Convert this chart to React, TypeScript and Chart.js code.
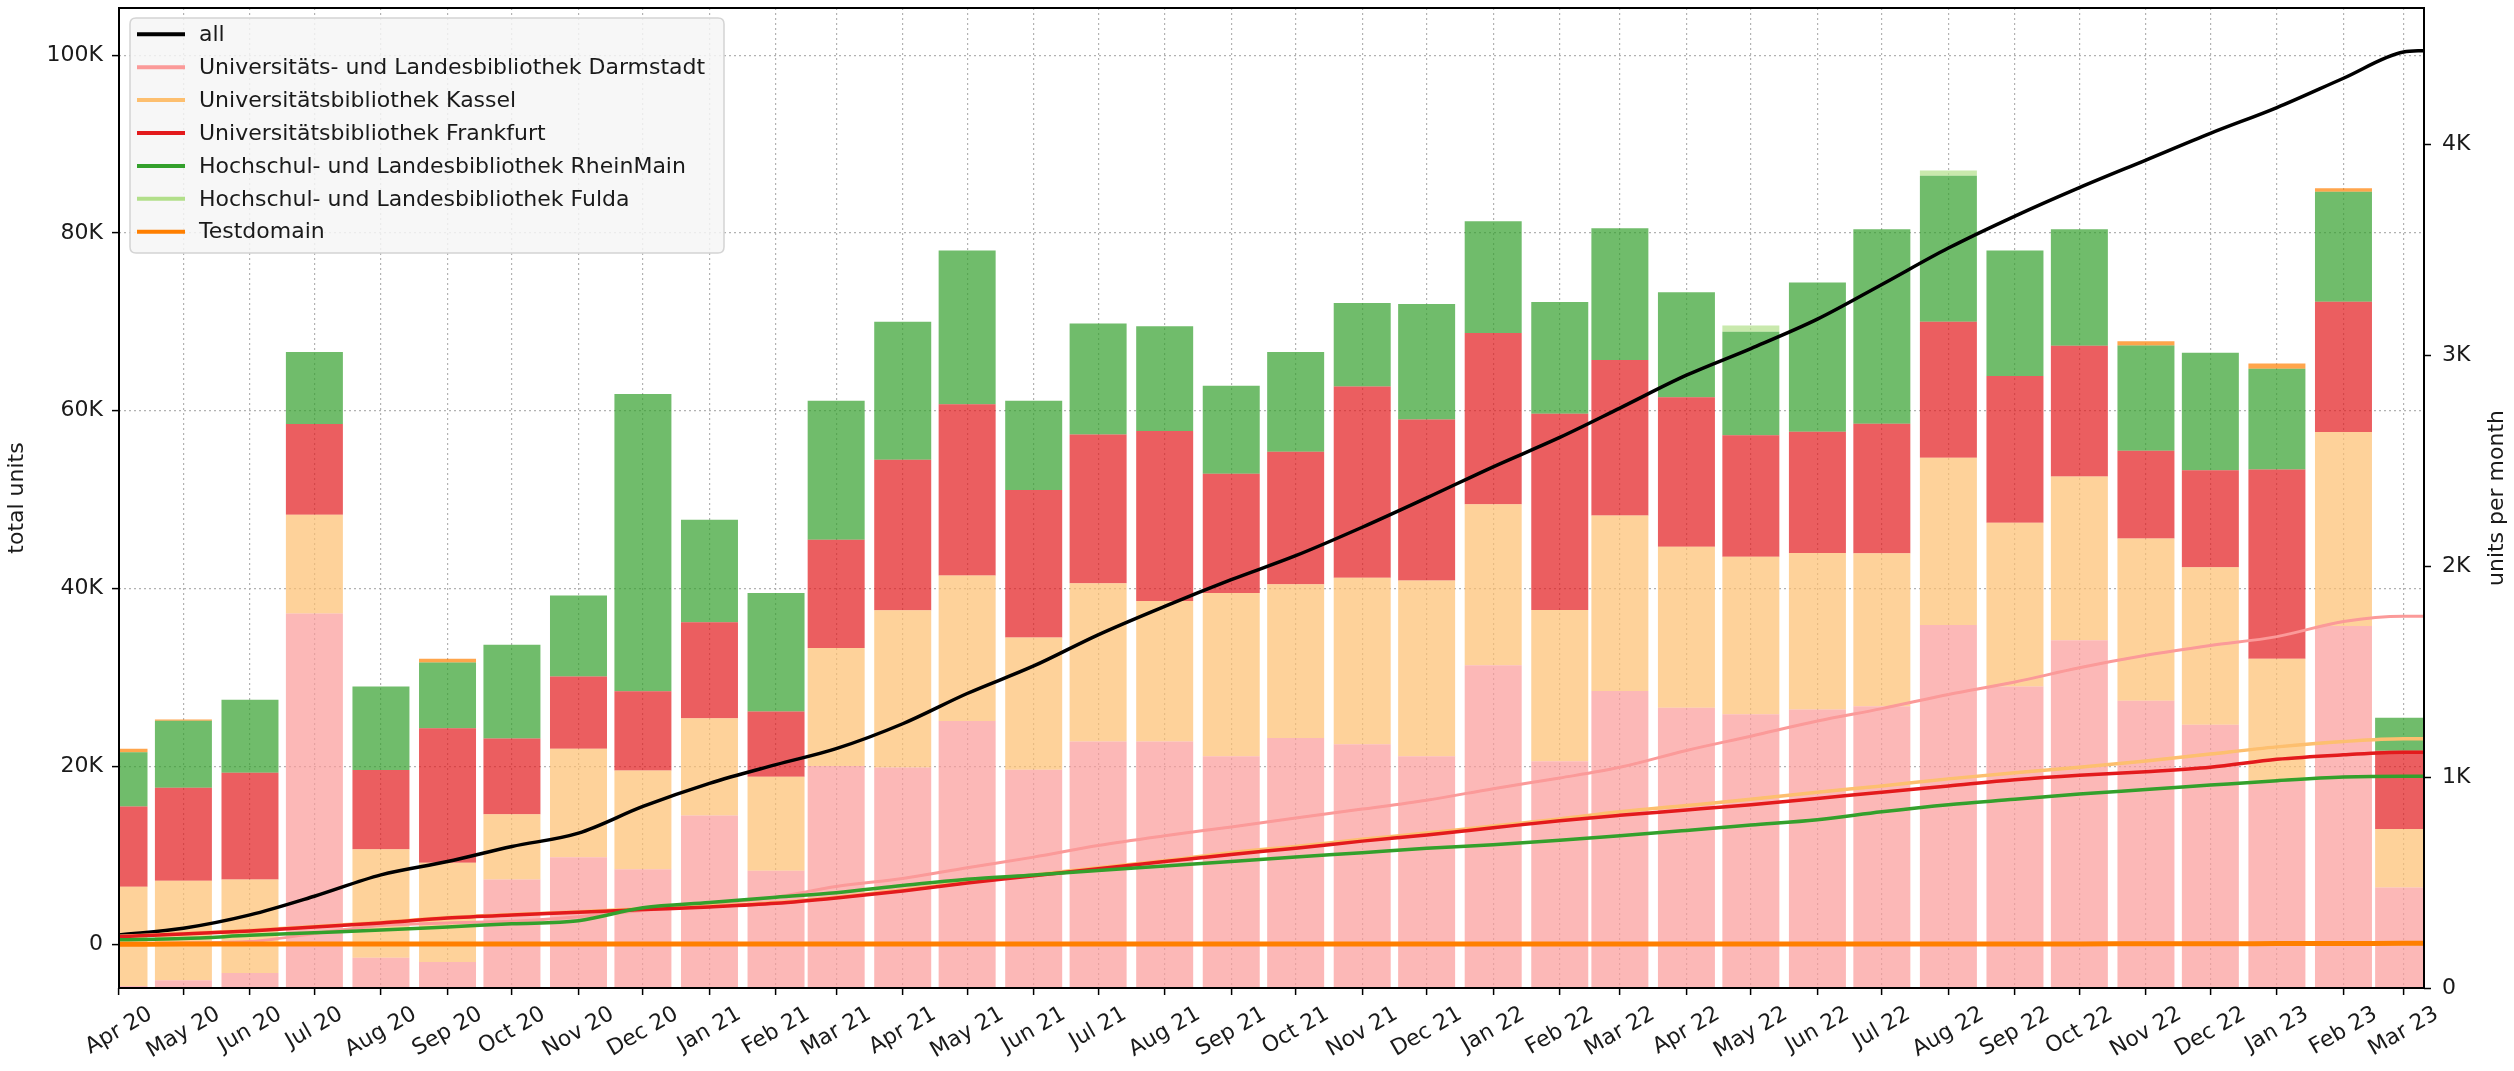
import React, { useEffect, useRef } from "react";
import { Chart, registerables } from "chart.js";

Chart.register(...registerables);

const FONT = "'DejaVu Sans', sans-serif";
const FS = 22;

// ---------- data ----------
const monthLabels = [
  "Apr 20", "May 20", "Jun 20", "Jul 20", "Aug 20", "Sep 20", "Oct 20", "Nov 20", "Dec 20",
  "Jan 21", "Feb 21", "Mar 21", "Apr 21", "May 21", "Jun 21", "Jul 21", "Aug 21", "Sep 21",
  "Oct 21", "Nov 21", "Dec 21", "Jan 22", "Feb 22", "Mar 22", "Apr 22", "May 22", "Jun 22",
  "Jul 22", "Aug 22", "Sep 22", "Oct 22", "Nov 22", "Dec 22", "Jan 23", "Feb 23", "Mar 23",
];

const leftTicks = [0, 20000, 40000, 60000, 80000, 100000];
const rightTicks = [0, 1000, 2000, 3000, 4000];

// units per month (bars, right axis)
const darmstadtMonthly = [10, 37, 71, 1775, 143, 123, 514, 620, 563, 818, 556, 1052, 1045, 1265, 1035, 1168, 1168, 1098, 1185, 1155, 1098, 1530, 1075, 1408, 1328, 1298, 1320, 1336, 1720, 1429, 1648, 1362, 1248, 982, 1716, 476];
const kasselMonthly = [470, 471, 443, 468, 515, 471, 310, 514, 468, 460, 445, 559, 746, 690, 626, 751, 666, 774, 729, 789, 833, 763, 717, 831, 763, 746, 742, 725, 793, 776, 776, 768, 746, 578, 919, 278];
const frankfurtMonthly = [380, 441, 506, 430, 375, 637, 358, 342, 375, 455, 310, 514, 713, 812, 700, 704, 806, 565, 628, 907, 763, 812, 930, 738, 709, 576, 574, 614, 645, 696, 620, 417, 460, 898, 618, 371];
const rheinmainMonthly = [257, 318, 346, 342, 396, 312, 445, 384, 1410, 487, 561, 658, 654, 729, 422, 527, 497, 418, 472, 396, 548, 529, 529, 624, 498, 491, 708, 921, 692, 595, 552, 498, 557, 477, 521, 156];
const fuldaMonthly = [0, 0, 0, 0, 0, 0, 0, 0, 0, 0, 0, 0, 0, 0, 0, 0, 0, 0, 0, 0, 0, 0, 0, 0, 0, 29, 0, 0, 25, 0, 0, 0, 0, 0, 0, 0];
const testMonthly = [17, 6, 0, 0, 0, 17, 0, 0, 0, 0, 0, 0, 0, 0, 0, 0, 0, 0, 0, 0, 0, 0, 0, 0, 0, 0, 0, 0, 0, 0, 0, 21, 0, 25, 17, 0];

// total units (lines, left axis) at each month start + the right edge
const allTotal = [1050, 1800, 3300, 5400, 7800, 9300, 11000, 12500, 15500, 18100, 20200, 22000, 24800, 28200, 31300, 34800, 38000, 41000, 43700, 46900, 50200, 53700, 57000, 60300, 64000, 67000, 70300, 74200, 78300, 81900, 85100, 88200, 91200, 94100, 97400, 100350, 100500];
const darmstadtTotal = [50, 150, 300, 1200, 2100, 2400, 2600, 3100, 3800, 4500, 5300, 6500, 7400, 8600, 9800, 11100, 12200, 13200, 14200, 15200, 16200, 17500, 18700, 19900, 21800, 23400, 25100, 26500, 28100, 29500, 31100, 32500, 33600, 34600, 36300, 36900, 36900];
const kasselTotal = [900, 1200, 1550, 2000, 2450, 3000, 3350, 3650, 4000, 4300, 4700, 5300, 6100, 7000, 7800, 8600, 9400, 10300, 11000, 11800, 12500, 13300, 14100, 14900, 15600, 16300, 17100, 17800, 18600, 19300, 19900, 20600, 21400, 22200, 22800, 23100, 23100];
const frankfurtTotal = [850, 1150, 1500, 1950, 2400, 2950, 3300, 3600, 3900, 4200, 4600, 5200, 6000, 6900, 7700, 8500, 9300, 10100, 10800, 11600, 12300, 13100, 13900, 14500, 15100, 15700, 16400, 17100, 17800, 18500, 19000, 19400, 19900, 20800, 21300, 21600, 21600];
const rheinmainTotal = [500, 650, 1000, 1300, 1600, 1950, 2300, 2650, 4100, 4700, 5300, 5800, 6600, 7300, 7800, 8300, 8800, 9300, 9800, 10300, 10800, 11200, 11700, 12200, 12800, 13400, 14000, 14900, 15700, 16300, 16900, 17400, 17900, 18400, 18800, 18900, 18900];
const fuldaTotal = [0, 0, 0, 0, 0, 0, 0, 0, 0, 0, 0, 0, 0, 0, 0, 0, 0, 0, 0, 0, 0, 0, 0, 0, 0, 10, 30, 30, 40, 55, 55, 55, 55, 55, 55, 55, 55];
const testTotal = [0, 15, 20, 25, 25, 30, 40, 40, 40, 40, 40, 40, 40, 40, 40, 40, 40, 40, 40, 40, 40, 40, 40, 40, 40, 40, 40, 40, 40, 40, 40, 50, 60, 75, 90, 100, 100];

const seriesNames = [
  "all",
  "Universitäts- und Landesbibliothek Darmstadt",
  "Universitätsbibliothek Kassel",
  "Universitätsbibliothek Frankfurt",
  "Hochschul- und Landesbibliothek RheinMain",
  "Hochschul- und Landesbibliothek Fulda",
  "Testdomain",
];
const lineColors = ["#000000", "#fb9a99", "#fdbf6f", "#e31a1c", "#33a02c", "#b2df8a", "#ff7f00"];
const barColors = [
  "rgba(251,154,153,0.7)",
  "rgba(253,191,111,0.7)",
  "rgba(227,26,28,0.7)",
  "rgba(51,160,44,0.7)",
  "rgba(178,223,138,0.7)",
  "rgba(255,127,0,0.7)",
];

// ---------- x positions (days since 1 Apr 2020) ----------
const MONTH_INDEX: Record<string, number> = {
  Jan: 0, Feb: 1, Mar: 2, Apr: 3, May: 4, Jun: 5, Jul: 6, Aug: 7, Sep: 8, Oct: 9, Nov: 10, Dec: 11,
};
const ORIGIN = Date.UTC(2020, 3, 1);
const dayOf = (label: string) => {
  const [m, y] = label.split(" ");
  return (Date.UTC(2000 + Number(y), MONTH_INDEX[m], 1) - ORIGIN) / 86400000;
};
const monthDays = monthLabels.map(dayOf);
const AXIS_END_DAY = 1073.5;
const lineDays = [...monthDays, AXIS_END_DAY];

const LEFT_MIN = -4920;
const LEFT_MAX = 105300;
const RIGHT_MAX = 4645;

const GRID = "rgba(170,170,170,0.9)";
const fmtK = (v: number) => (v === 0 ? "0" : `${Math.round(v / 1000)}K`);

const decorPlugin = {
  id: "decor",
  afterDatasetsDraw(chart: any) {
    const { ctx, chartArea: a } = chart;
    ctx.save();
    // legend
    const lx = 130, ly = 18, lw = 594, lh = 235, r = 6;
    ctx.beginPath();
    ctx.moveTo(lx + r, ly);
    ctx.lineTo(lx + lw - r, ly);
    ctx.quadraticCurveTo(lx + lw, ly, lx + lw, ly + r);
    ctx.lineTo(lx + lw, ly + lh - r);
    ctx.quadraticCurveTo(lx + lw, ly + lh, lx + lw - r, ly + lh);
    ctx.lineTo(lx + r, ly + lh);
    ctx.quadraticCurveTo(lx, ly + lh, lx, ly + lh - r);
    ctx.lineTo(lx, ly + r);
    ctx.quadraticCurveTo(lx, ly, lx + r, ly);
    ctx.closePath();
    ctx.fillStyle = "rgba(246,246,246,0.85)";
    ctx.fill();
    ctx.strokeStyle = "#d4d4d4";
    ctx.lineWidth = 1.5;
    ctx.stroke();
    ctx.font = `${FS}px ${FONT}`;
    ctx.textAlign = "left";
    ctx.textBaseline = "middle";
    seriesNames.forEach((name, i) => {
      const y = 34.3 + i * 32.9;
      ctx.strokeStyle = lineColors[i];
      ctx.lineWidth = 4;
      ctx.beginPath();
      ctx.moveTo(137, y);
      ctx.lineTo(185, y);
      ctx.stroke();
      ctx.fillStyle = "#1a1a1a";
      ctx.fillText(name, 199, y + 1);
    });
    // frame
    ctx.strokeStyle = "#000";
    ctx.lineWidth = 2;
    ctx.strokeRect(a.left, a.top, a.right - a.left, a.bottom - a.top);
    ctx.restore();
  },
  afterDraw(chart: any) {
    const { ctx, chartArea: a, scales } = chart;
    const xs = scales.x;
    ctx.save();
    ctx.font = `${FS}px ${FONT}`;
    ctx.fillStyle = "#1a1a1a";
    const ang = Math.PI / 6;
    monthDays.forEach((d, i) => {
      const x = xs.getPixelForValue(d);
      const label = monthLabels[i];
      const w = ctx.measureText(label).width;
      const h = FS;
      const bh = w * Math.sin(ang) + h * Math.cos(ang);
      const cy = a.bottom + 15 + bh / 2;
      ctx.save();
      ctx.translate(x, cy);
      ctx.rotate(-ang);
      ctx.textAlign = "center";
      ctx.textBaseline = "middle";
      ctx.fillText(label, 0, 0);
      ctx.restore();
    });
    // right axis title
    ctx.save();
    ctx.translate(2497, (a.top + a.bottom) / 2);
    ctx.rotate(-Math.PI / 2);
    ctx.textAlign = "center";
    ctx.textBaseline = "middle";
    ctx.fillText("units per month", 0, 0);
    ctx.restore();
    ctx.restore();
  },
};

export default function App() {
  const canvasRef = useRef<HTMLCanvasElement | null>(null);

  useEffect(() => {
    const canvas = canvasRef.current;
    if (!canvas) return;

    const barSeries = [darmstadtMonthly, kasselMonthly, frankfurtMonthly, rheinmainMonthly, fuldaMonthly, testMonthly];
    const lineSeries = [allTotal, darmstadtTotal, kasselTotal, frankfurtTotal, rheinmainTotal, fuldaTotal, testTotal];
    const lineWidths = [3.5, 3, 3.5, 3.5, 3.5, 3, 5];

    const barDatasets = barSeries.map((arr, i) => ({
      type: "bar" as const,
      label: seriesNames[i + 1] + " (monthly)",
      data: arr.map((v, k) => ({ x: monthDays[k], y: v })),
      backgroundColor: barColors[i],
      borderWidth: 0,
      yAxisID: "y1",
      xAxisID: "x",
      stack: "bars",
      order: 10,
      clip: 0,
      categoryPercentage: 0.948,
      barPercentage: 1,
    }));

    const lineDatasets = lineSeries.map((arr, i) => ({
      type: "line" as const,
      label: seriesNames[i],
      data: arr.map((v, k) => ({ x: lineDays[k], y: v })),
      borderColor: lineColors[i],
      backgroundColor: lineColors[i],
      borderWidth: lineWidths[i],
      pointRadius: 0,
      fill: false,
      cubicInterpolationMode: "monotone" as const,
      yAxisID: "y",
      xAxisID: "x",
      order: 6 - i,
      borderCapStyle: "butt" as const,
    }));

    const tickFont = { family: FONT, size: FS };

    const chart = new Chart(canvas, {
      type: "bar",
      data: { datasets: [...barDatasets, ...lineDatasets] as any },
      plugins: [decorPlugin],
      options: {
        responsive: false,
        devicePixelRatio: 1,
        animation: false,
        events: [],
        layout: { padding: { top: 8, left: 0, right: 0, bottom: 0 } },
        plugins: { legend: { display: false }, tooltip: { enabled: false }, title: { display: false } },
        scales: {
          x: {
            type: "linear",
            min: 0,
            max: AXIS_END_DAY,
            offset: false,
            stacked: true,
            afterBuildTicks: (s: any) => {
              s.ticks = monthDays.map((v) => ({ value: v }));
            },
            ticks: { display: false, autoSkip: false },
            grid: {
              display: true,
              offset: false,
              color: GRID,
              lineWidth: 1.2,
              drawTicks: true,
              tickLength: 7,
              tickColor: "#000",
              tickWidth: 1.5,
              tickBorderDash: [],
            },
            border: { display: false, dash: [2, 3] },
            afterFit: (s: any) => {
              s.height = 83;
              s.paddingLeft = 0;
              s.paddingRight = 0;
            },
          },
          y: {
            type: "linear",
            position: "left",
            min: LEFT_MIN,
            max: LEFT_MAX,
            afterBuildTicks: (s: any) => {
              s.ticks = leftTicks.map((v) => ({ value: v }));
            },
            ticks: { font: tickFont, color: "#1a1a1a", padding: 9, callback: (v: any) => fmtK(Number(v)) },
            grid: {
              color: GRID,
              lineWidth: 1.2,
              drawTicks: true,
              tickLength: 7,
              tickColor: "#000",
              tickWidth: 1.5,
              tickBorderDash: [],
            },
            border: { display: false, dash: [2, 3] },
            title: { display: true, text: "total units", font: tickFont, color: "#1a1a1a", padding: { top: 4, bottom: 0 } },
            afterFit: (s: any) => {
              s.width = 119;
              s.paddingTop = 0;
              s.paddingBottom = 0;
            },
          },
          y1: {
            type: "linear",
            position: "right",
            min: 0,
            max: RIGHT_MAX,
            stacked: true,
            afterBuildTicks: (s: any) => {
              s.ticks = rightTicks.map((v) => ({ value: v }));
            },
            ticks: { font: tickFont, color: "#1a1a1a", padding: 11, callback: (v: any) => fmtK(Number(v)) },
            grid: {
              drawOnChartArea: false,
              drawTicks: true,
              tickLength: 7,
              tickColor: "#000",
              tickWidth: 1.5,
              tickBorderDash: [],
            },
            border: { display: false },
            afterFit: (s: any) => {
              s.width = 90;
              s.paddingTop = 0;
              s.paddingBottom = 0;
            },
          },
        },
      } as any,
    });

    return () => {
      chart.destroy();
    };
  }, []);

  return (
    <div style={{ position: "absolute", left: 0, top: 0, width: 2514, height: 1071, background: "#fff" }}>
      <canvas ref={canvasRef} width={2514} height={1071} style={{ display: "block" }} />
    </div>
  );
}
